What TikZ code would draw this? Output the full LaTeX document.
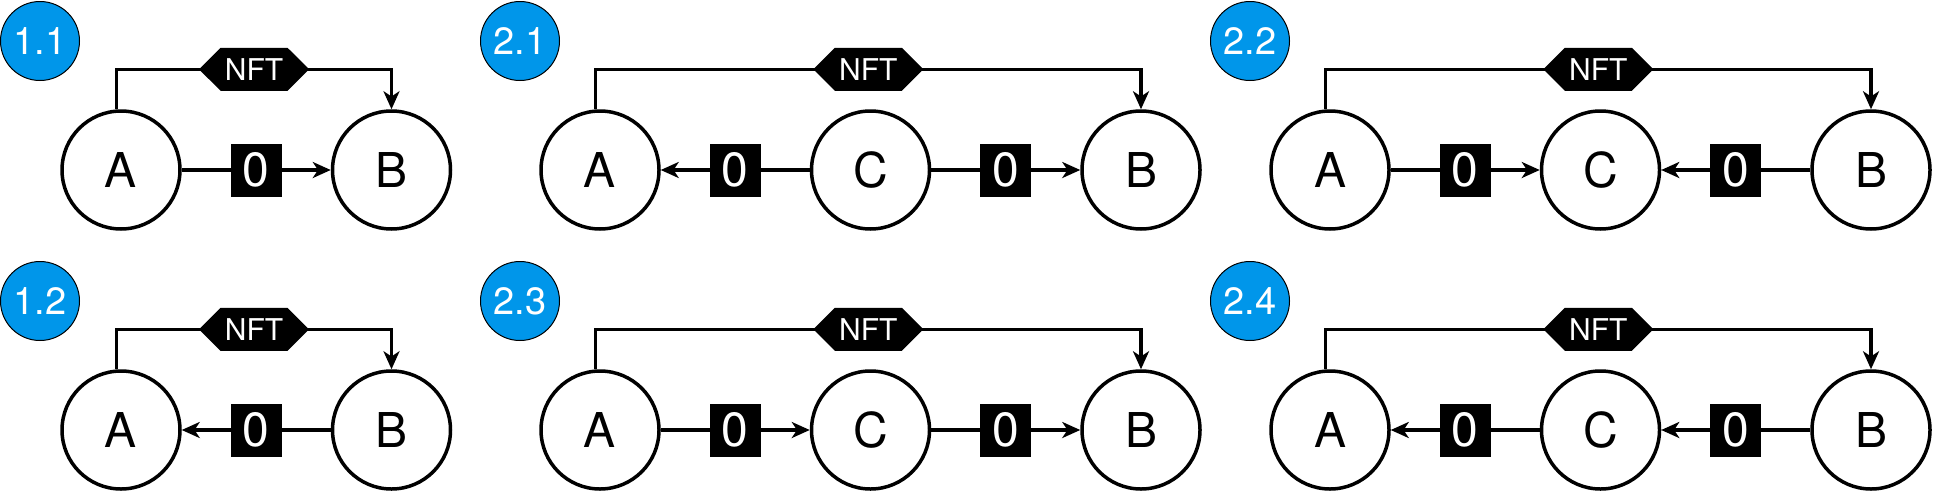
\documentclass[tikz,border=0pt]{standalone}
\usepackage{fontspec}
\setmainfont{TeX Gyre Heros}
\usepackage{xcolor}
\usetikzlibrary{arrows.meta, positioning, shapes.symbols}
\definecolor{badgeblue}{RGB}{0,150,234}
\tikzset{
    x=0.5pt, y=0.5pt, % one unit is one pixel of the layout
    >={Stealth[length=9pt,width=8pt,inset=2.6pt]}, % arrow heads
    node distance=74.5pt, % border to border between two parties
    party/.style={circle, draw, line width=1.75pt, minimum size=59pt, inner sep=0pt, font=\fontsize{24}{28}\selectfont},
    badge/.style={circle, draw, line width=0.5pt, fill=badgeblue, text=white, minimum size=39.5pt, inner sep=0pt, font=\fontsize{19}{22}\selectfont},
    token/.style={signal, signal to=west and east, fill=black, text=white, minimum width=55pt, minimum height=21.5pt, inner sep=0pt, font=\fontsize{15}{17}\selectfont},
    amount/.style={fill=black, text=white, minimum width=25.5pt, minimum height=26.5pt, inner sep=0pt, font=\fontsize{24}{28}\selectfont},
}
\tikzstyle{flow} = [line width=1.75pt, ->]

\begin{document}
\begin{tikzpicture}
    \useasboundingbox (0,0) rectangle (1933,-493);

    % 1.1
    \node[badge] (p11) at (40,-41) {1.1};
    \node[party] (a11) at (121,-170) {A};
    \node[party, right=of a11] (b11) {B};
    \draw[flow] (a11) -- node[amount] {0} (b11);
    \draw[flow] ([xshift=-2.25pt]a11.north) -- ++(0,40) -| node[token, pos=0.25] {NFT} (b11.north);

    % 2.1
    \node[badge] (p21) at (520,-41) {2.1};
    \node[party] (a21) at (600,-170) {A};
    \node[party, right=of a21] (c21) {C};
    \node[party, right=of c21] (b21) {B};
    \draw[flow] (c21) -- node[amount] {0} (a21);
    \draw[flow] (c21) -- node[amount] {0} (b21);
    \draw[flow] ([xshift=-2.25pt]a21.north) -- ++(0,40) -| node[token, pos=0.25] {NFT} (b21.north);

    % 2.2
    \node[badge] (p22) at (1250,-41) {2.2};
    \node[party] (a22) at (1330,-170) {A};
    \node[party, right=of a22] (c22) {C};
    \node[party, right=of c22] (b22) {B};
    \draw[flow] (a22) -- node[amount] {0} (c22);
    \draw[flow] (b22) -- node[amount] {0} (c22);
    \draw[flow] ([xshift=-2.25pt]a22.north) -- ++(0,40) -| node[token, pos=0.25] {NFT} (b22.north);

    % 1.2
    \node[badge] (p12) at (40,-301) {1.2};
    \node[party] (a12) at (121,-430) {A};
    \node[party, right=of a12] (b12) {B};
    \draw[flow] (b12) -- node[amount] {0} (a12);
    \draw[flow] ([xshift=-2.25pt]a12.north) -- ++(0,40) -| node[token, pos=0.25] {NFT} (b12.north);

    % 2.3
    \node[badge] (p23) at (520,-301) {2.3};
    \node[party] (a23) at (600,-430) {A};
    \node[party, right=of a23] (c23) {C};
    \node[party, right=of c23] (b23) {B};
    \draw[flow] (a23) -- node[amount] {0} (c23);
    \draw[flow] (c23) -- node[amount] {0} (b23);
    \draw[flow] ([xshift=-2.25pt]a23.north) -- ++(0,40) -| node[token, pos=0.25] {NFT} (b23.north);

    % 2.4
    \node[badge] (p24) at (1250,-301) {2.4};
    \node[party] (a24) at (1330,-430) {A};
    \node[party, right=of a24] (c24) {C};
    \node[party, right=of c24] (b24) {B};
    \draw[flow] (c24) -- node[amount] {0} (a24);
    \draw[flow] (b24) -- node[amount] {0} (c24);
    \draw[flow] ([xshift=-2.25pt]a24.north) -- ++(0,40) -| node[token, pos=0.25] {NFT} (b24.north);
\end{tikzpicture}
\end{document}
